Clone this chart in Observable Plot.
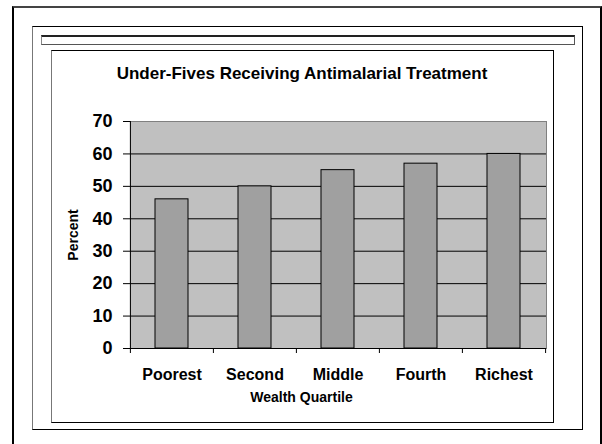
<!DOCTYPE html>
<html>
<head>
<meta charset="utf-8">
<script src="https://cdn.jsdelivr.net/npm/d3@7"></script>
<script src="https://cdn.jsdelivr.net/npm/@observablehq/plot@0.6"></script>
<style>
  html, body { margin: 0; padding: 0; background: #fff; }
  #wrap { position: relative; width: 602px; height: 444px; overflow: hidden; background: #fff; font-family: Arial, "Liberation Sans", sans-serif; }
  .box { position: absolute; box-sizing: border-box; pointer-events: none; }
  #chart { position: absolute; left: 0; top: 0; }
</style>
</head>
<body>
<div id="wrap">
  <div id="chart"></div>
  <div class="box" style="left:12px;top:6px;width:590px;height:460px;border:2px solid #000;border-top-color:#444;"></div>
  <div class="box" style="left:32px;top:26px;width:551px;height:404px;border:1px solid #000;border-left-color:#777;"></div>
  <div class="box" style="left:41px;top:35px;width:534px;height:10px;border:1px solid #555;border-top:2px solid #222;border-left-color:#888;"></div>
  <div class="box" style="left:51px;top:50px;width:503px;height:373px;border:1px solid #000;border-left-color:#777;"></div>
</div>
<script>
const quartiles = ["Poorest", "Second", "Middle", "Fourth", "Richest"];
const percents = [46, 50, 55, 57, 60];
const yTicks = [0, 10, 20, 30, 40, 50, 60, 70];
const gridLines = [10, 20, 30, 40, 50, 60];
const titleText = "Under-Fives Receiving Antimalarial Treatment";
const xLabel = "Wealth Quartile";
const yLabel = "Percent";

const data = quartiles.map((q, i) => ({q, v: percents[i]}));

const W = 602, H = 444, mL = 130, mR = 56, mT = 121, mB = 96;
const step = (W - mL - mR) / quartiles.length;
const font = "Arial, 'Liberation Sans', sans-serif";

const chart = Plot.plot({
  width: W,
  height: H,
  marginLeft: mL,
  marginRight: mR,
  marginTop: mT,
  marginBottom: mB,
  style: {background: "transparent", fontFamily: font, color: "#000"},
  x: {domain: quartiles, paddingInner: 0.6, paddingOuter: 0.3, label: null},
  y: {domain: [0, 70], label: null},
  marks: [
    Plot.frame({fill: "#c0c0c0", stroke: "#808080"}),
    Plot.ruleY(gridLines, {stroke: "#000"}),
    Plot.barY(data, {x: "q", y: "v", fill: "#a0a0a0", stroke: "#000", strokeWidth: 1}),
    Plot.ruleY([0], {stroke: "#000"}),
    // y axis line at the left edge of the first band
    Plot.ruleX([quartiles[0]], {dx: -step / 2, stroke: "#000"}),
    // x ticks at band boundaries
    Plot.ruleX(quartiles, {x: d => d, y1: 0, y2: 0, insetBottom: -5, dx: -step / 2, stroke: "#000"}),
    Plot.ruleX([quartiles[quartiles.length - 1]], {y1: 0, y2: 0, insetBottom: -5, dx: step / 2, stroke: "#000"}),
    Plot.axisY({ticks: yTicks, tickSize: 7, tickPadding: 11, fontSize: 18, fontWeight: "bold", label: null}),
    Plot.axisX({tickSize: 0, tickPadding: 20, fontSize: 16, fontWeight: "bold", label: null}),
    Plot.text([titleText], {text: d => d, frameAnchor: "top", textAnchor: "middle", lineAnchor: "bottom",
      dx: -36.5, dy: -42.5, fontSize: 17, fontWeight: "bold"}),
    Plot.text([xLabel], {text: d => d, frameAnchor: "bottom", textAnchor: "middle", lineAnchor: "bottom",
      dx: -37, dy: 53, fontSize: 14, fontWeight: "bold"}),
    Plot.text([yLabel], {text: d => d, frameAnchor: "left", textAnchor: "middle", lineAnchor: "middle",
      rotate: -90, dx: -57, fontSize: 14, fontWeight: "bold"})
  ]
});
document.getElementById("chart").append(chart);
</script>
</body>
</html>
